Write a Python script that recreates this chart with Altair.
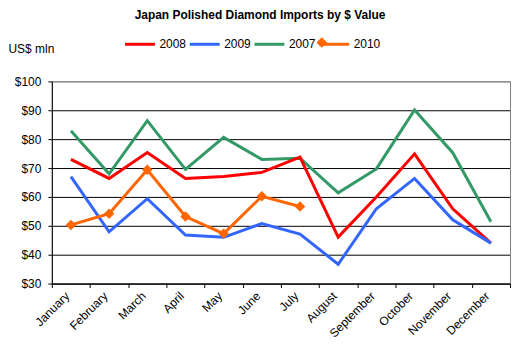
import altair as alt
import pandas as pd

months = ["January", "February", "March", "April", "May", "June", "July",
          "August", "September", "October", "November", "December"]
series_order = ["2008", "2009", "2007", "2010"]
colors = ["#FF0000", "#3366FF", "#339966", "#FF6600"]

v2008 = [73.0, 66.4, 75.4, 66.4, 67.1, 68.5, 73.8, 46.1, 60.0, 74.9, 55.9, 44.0]
v2009 = [67.0, 47.9, 59.4, 46.8, 46.0, 50.8, 47.1, 36.7, 55.9, 66.4, 52.1, 44.0]
v2007 = [82.9, 68.0, 86.4, 69.5, 80.6, 73.0, 73.4, 61.4, 69.7, 90.1, 75.3, 51.4]
v2010 = [50.3, 54.2, 69.4, 53.2, 47.3, 60.2, 56.7]
y_ticks = [30, 40, 50, 60, 70, 80, 90, 100]

rows = []
for name, vals in [("2007", v2007), ("2008", v2008), ("2009", v2009), ("2010", v2010)]:
    for m, v in zip(months, vals):
        rows.append({"month": m, "series": name, "value": v})
df = pd.DataFrame(rows)

FONT = "Liberation Sans"

y_scale = alt.Scale(domain=[30, 100], nice=False, zero=False)

x_enc = alt.X("month:N", sort=months, title=None,
              scale=alt.Scale(paddingInner=0, paddingOuter=0),
              axis=alt.Axis(labelAngle=-45, labelAlign="right", labelBaseline="middle",
                            labelPadding=6, labelOffset=-4, tickBand="extent", tickSize=4,
                            domainColor="black", tickColor="black",
                            labelFont=FONT, labelFontSize=12, labelColor="black",
                            labelOverlap=False, grid=False))
y_enc = alt.Y("value:Q", title="US$ mln", scale=y_scale,
              axis=alt.Axis(values=y_ticks,
                            labelExpr="'$' + datum.value",
                            tickSize=4, labelPadding=7, labelOverlap=False,
                            domainColor="black", tickColor="black",
                            gridColor={"condition": {"test": "datum.value === 100", "value": "#808080"},
                                       "value": "black"},
                            gridOpacity=1,
                            labelFont=FONT, labelFontSize=12, labelColor="black",
                            titleAngle=0, titleX=-44, titleY=-33, titleAlign="left",
                            titleBaseline="middle", titleFont=FONT, titleFontSize=12,
                            titleFontWeight="normal", titleColor="black"))
y_right = alt.Y("value:Q", scale=y_scale, title=None,
                axis=alt.Axis(orient="right", labels=False, ticks=False, grid=False,
                              domainColor="#808080", title=None))

lines = alt.Chart(df).mark_line(strokeWidth=3).encode(
    x=x_enc,
    y=y_enc,
    color=alt.Color("series:N",
                    scale=alt.Scale(domain=series_order, range=colors),
                    legend=alt.Legend(title=None, orient="none", direction="horizontal",
                                      legendX=72, legendY=-54,
                                      symbolType="stroke", symbolSize=900,
                                      symbolStrokeWidth=3, labelOffset=3,
                                      columnPadding=-3,
                                      labelFont=FONT, labelFontSize=12, labelColor="black")),
    order=alt.Order("series:N"),
)

points = alt.Chart(df[df["series"] == "2010"]).mark_point(
    filled=True, size=110, opacity=1, color="#FF6600"
).encode(
    x=x_enc,
    y=y_right,
    shape=alt.Shape("series:N", scale=alt.Scale(domain=["2010"], range=["diamond"]),
                    legend=alt.Legend(title=None, orient="none", legendX=265, legendY=-45,
                                      symbolSize=110, symbolFillColor="#FF6600",
                                      symbolStrokeColor="#FF6600",
                                      labelExpr="''")),
)

chart = alt.layer(lines, points).resolve_axis(y="independent").properties(
    width=460,
    height=203,
    padding={"left": 44, "top": 73, "right": 2, "bottom": 62},
    autosize=alt.AutoSizeParams(type="none"),
    background="white",
    title=alt.TitleParams("Japan Polished Diamond Imports by $ Value",
                          font=FONT, fontSize=12, fontWeight="bold", color="black",
                          anchor="middle", dx=-21, dy=-2),
).configure_view(stroke="#808080", strokeWidth=1).configure_axis(
    domainWidth=1, tickWidth=1, gridWidth=1
)

chart.save("out.html", embed_options={"renderer": "svg", "actions": False})
